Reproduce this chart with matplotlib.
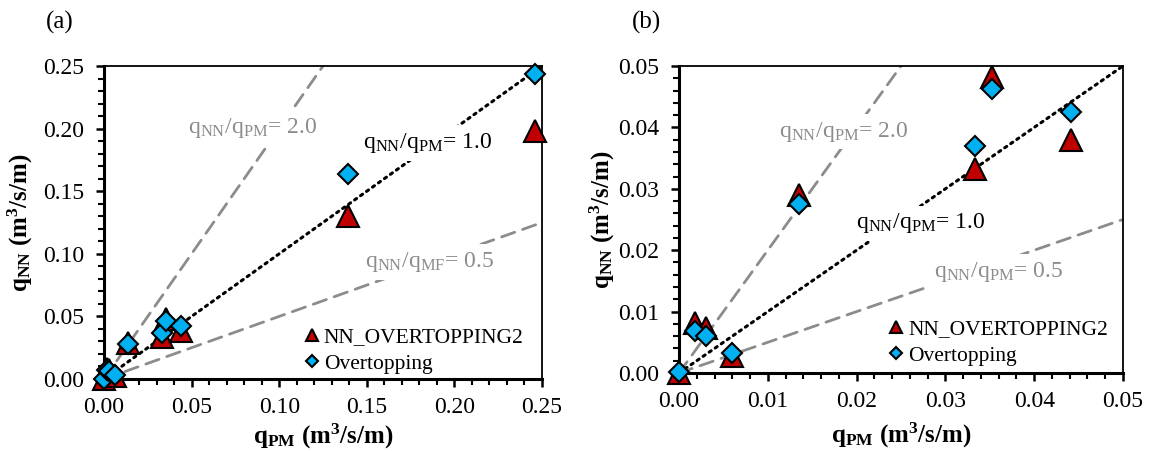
import numpy as np
import matplotlib
matplotlib.use("Agg")
import matplotlib.pyplot as plt
from matplotlib.ticker import MultipleLocator, FormatStrFormatter

plt.rcParams["font.family"] = ["Liberation Serif", "DejaVu Serif"]
plt.rcParams["mathtext.fontset"] = "custom"
plt.rcParams["mathtext.rm"] = "Liberation Serif"
plt.rcParams["mathtext.it"] = "Liberation Serif:italic"
plt.rcParams["mathtext.bf"] = "Liberation Serif:bold"

# measured discharge (physical model) vs predicted
q_pm = [0.0, 0.0018, 0.0030, 0.0060, 0.0135, 0.0333, 0.0353, 0.0442, 0.139, 0.246]
q_nn2 = [0.0, 0.0082, 0.0074, 0.0027, 0.0290, 0.0332, 0.0482, 0.0380, 0.130, 0.198]
q_ovt = [0.0001, 0.0068, 0.0061, 0.0032, 0.0276, 0.0370, 0.0463, 0.0425, 0.1636, 0.244]

ratios = [2.0, 1.0, 0.5]

RED = "#C00000"
BLUE = "#00B0F0"
GRAY = "#8C8C8C"

fig = plt.figure(figsize=(11.5, 4.51), dpi=100)
ax_a = fig.add_axes([104 / 1150, 1 - 379 / 451, 438 / 1150, 313 / 451])
ax_b = fig.add_axes([679 / 1150, 1 - 373 / 451, 444 / 1150, 307 / 451])


def style_axes(ax, lim, minor, major):
    ax.set_xlim(0, lim)
    ax.set_ylim(0, lim)
    ax.xaxis.set_major_locator(MultipleLocator(major))
    ax.yaxis.set_major_locator(MultipleLocator(major))
    ax.xaxis.set_minor_locator(MultipleLocator(minor))
    ax.yaxis.set_minor_locator(MultipleLocator(minor))
    ax.xaxis.set_major_formatter(FormatStrFormatter("%.2f"))
    ax.yaxis.set_major_formatter(FormatStrFormatter("%.2f"))
    ax.tick_params(which="major", direction="out", length=6, width=1.8,
                   labelsize=17)
    ax.tick_params(axis="y", which="major", pad=8)
    ax.tick_params(axis="x", which="major", pad=7)
    ax.tick_params(which="minor", direction="out", length=4, width=1.5)
    for s in ["left", "bottom"]:
        ax.spines[s].set_linewidth(2.2)
    for s in ["top", "right"]:
        ax.spines[s].set_linewidth(1.3)
    ax.set_xlabel(r"q$_{\mathbf{PM}}$ (m$^{\mathbf{3}}$/s/m)", fontsize=18,
                  fontweight="bold")
    ax.set_ylabel(r"q$_{\mathbf{NN}}$ (m$^{\mathbf{3}}$/s/m)", fontsize=18,
                  fontweight="bold")


def draw_panel(ax, lim, labels, legend_anchor):
    x = np.array(q_pm)
    keep = x <= lim * 1.01
    xs = np.array([0, lim])
    styles = [dict(color=GRAY, ls=(0, (5, 3)), lw=2.0),
              dict(color="black", ls=(0, (0.8, 1.6)), lw=2.2),
              dict(color=GRAY, ls=(0, (5, 3)), lw=2.0)]
    for r, st in zip(ratios, styles):
        ax.plot(xs, r * xs, zorder=1, dash_capstyle="round", **st)
    for (tx, ty, txt, col) in labels:
        ax.text(tx, ty, txt, color=col, fontsize=17, va="center", ha="left",
                zorder=2, bbox=dict(fc="white", ec="none", pad=4))
    ax.plot(x[keep], np.array(q_nn2)[keep], ls="none", marker="^", ms=15.5,
            mfc=RED, mec="black", mew=1.5, clip_on=False, zorder=3,
            label="NN_OVERTOPPING2")
    ax.plot(x[keep], np.array(q_ovt)[keep], ls="none", marker="D", ms=10.5,
            mfc=BLUE, mec="black", mew=1.5, clip_on=False, zorder=4,
            label="Overtopping")
    ax.legend(loc="upper left", bbox_to_anchor=legend_anchor, frameon=False,
              fontsize=15.5, markerscale=0.6, handlelength=0.6,
              handletextpad=0.25, borderpad=0, borderaxespad=0,
              labelspacing=0.3)


lab = r"q$_{\mathrm{NN}}$/q$_{\mathrm{%s}}$= %s"
style_axes(ax_a, 0.25, 0.01, 0.05)
draw_panel(ax_a, 0.25, [
    (0.0477, 0.2005, lab % ("PM", "2.0"), GRAY),
    (0.148, 0.1885, lab % ("PM", "1.0"), "black"),
    (0.149, 0.0934, lab % ("MF", "0.5"), GRAY),
], (0.46, 0.165))
ax_a.yaxis.set_label_coords(-0.158, 0.5)
ax_a.xaxis.set_label_coords(0.5, -0.136)

style_axes(ax_b, 0.05, 0.002, 0.01)
draw_panel(ax_b, 0.05, [
    (0.01126, 0.0393, lab % ("PM", "2.0"), GRAY),
    (0.01993, 0.0244, lab % ("PM", "1.0"), "black"),
    (0.02877, 0.0165, lab % ("PM", "0.5"), GRAY),
], (0.475, 0.175))
ax_b.yaxis.set_label_coords(-0.14, 0.5)
ax_b.xaxis.set_label_coords(0.5, -0.155)

fig.text(60 / 1150, 1 - 22 / 451, "(a)", fontsize=18, ha="center", va="center")
fig.text(647 / 1150, 1 - 22 / 451, "(b)", fontsize=18, ha="center", va="center")

fig.savefig("out.png", dpi=100, facecolor="white")
